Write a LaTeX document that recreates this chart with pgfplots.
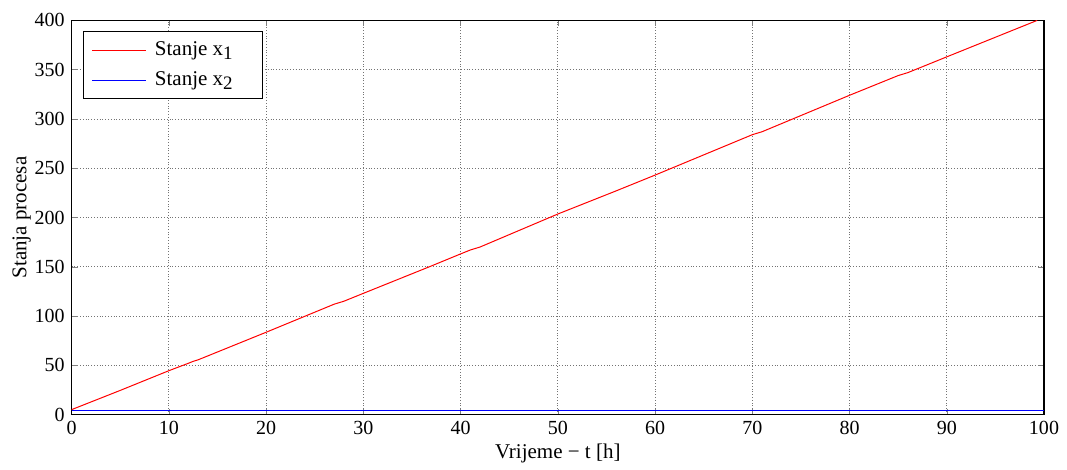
\documentclass[border=0pt]{standalone}
\usepackage{fontspec}
\setmainfont{Liberation Serif}
\usepackage{pgfplots}
\pgfplotsset{compat=1.18}
\newcommand{\sub}[1]{\raisebox{-0.4ex}{\fontsize{9.5}{10}\selectfont #1}}
\begin{document}
\fontsize{10}{12}\selectfont
\begin{tikzpicture}
\begin{axis}[
  width=486pt, height=197pt,
  scale only axis,
  xmin=0, xmax=100, ymin=0, ymax=400,
  xtick={0,10,...,100}, ytick={0,50,...,400},
  tick align=inside,
  tick pos=both,
  major tick length=3pt,
  grid=major,
  grid style={densely dotted, black!55, line width=0.4pt},
  axis line style={line width=0.6pt},
  /pgf/number format/assume math mode=true,
  ticklabel style={font=\fontsize{10}{12}\selectfont},
  xlabel={Vrijeme − t [h]},
  ylabel={Stanja procesa},
  label style={font=\fontsize{10.5}{12}\selectfont},
  xlabel style={yshift=2.5pt},
  ylabel style={yshift=-5pt},
  legend style={at={(0.012,0.973)}, anchor=north west, line width=0.6pt, font=\fontsize{10.5}{13}\selectfont, row sep=2.5pt, inner xsep=4pt, inner ysep=3pt},
  legend cell align=left,
  legend image code/.code={\draw[#1, line width=0.5pt] (1pt,0pt) -- (28pt,0pt);},
]
\addplot[red, line width=0.5pt] coordinates {
 (0,5) (5,24.5) (10,44.5) (12,52) (12.5,54) (13,55.5) (20,83.5) (27,112) (28,115) (30,123)
 (36.8,150) (40,163) (41,167) (42,170) (50,203.5) (56,227) (57,231) (60,243) (70,284) (71,287)
 (80,324) (85,344) (86,347) (90,363) (99.3,400)
};
\addlegendentry{\hspace{2pt}Stanje x\sub{1}\rule{9pt}{0pt}}
\addplot[blue, line width=0.5pt] coordinates {(0,4) (100,4)};
\addlegendentry{\hspace{2pt}Stanje x\sub{2}\rule{9pt}{0pt}}
\end{axis}
\path ([shift={(-35.8pt,-25.2pt)}]current axis.south west) rectangle ([shift={(11.5pt,10.2pt)}]current axis.north east);
\end{tikzpicture}
\end{document}
